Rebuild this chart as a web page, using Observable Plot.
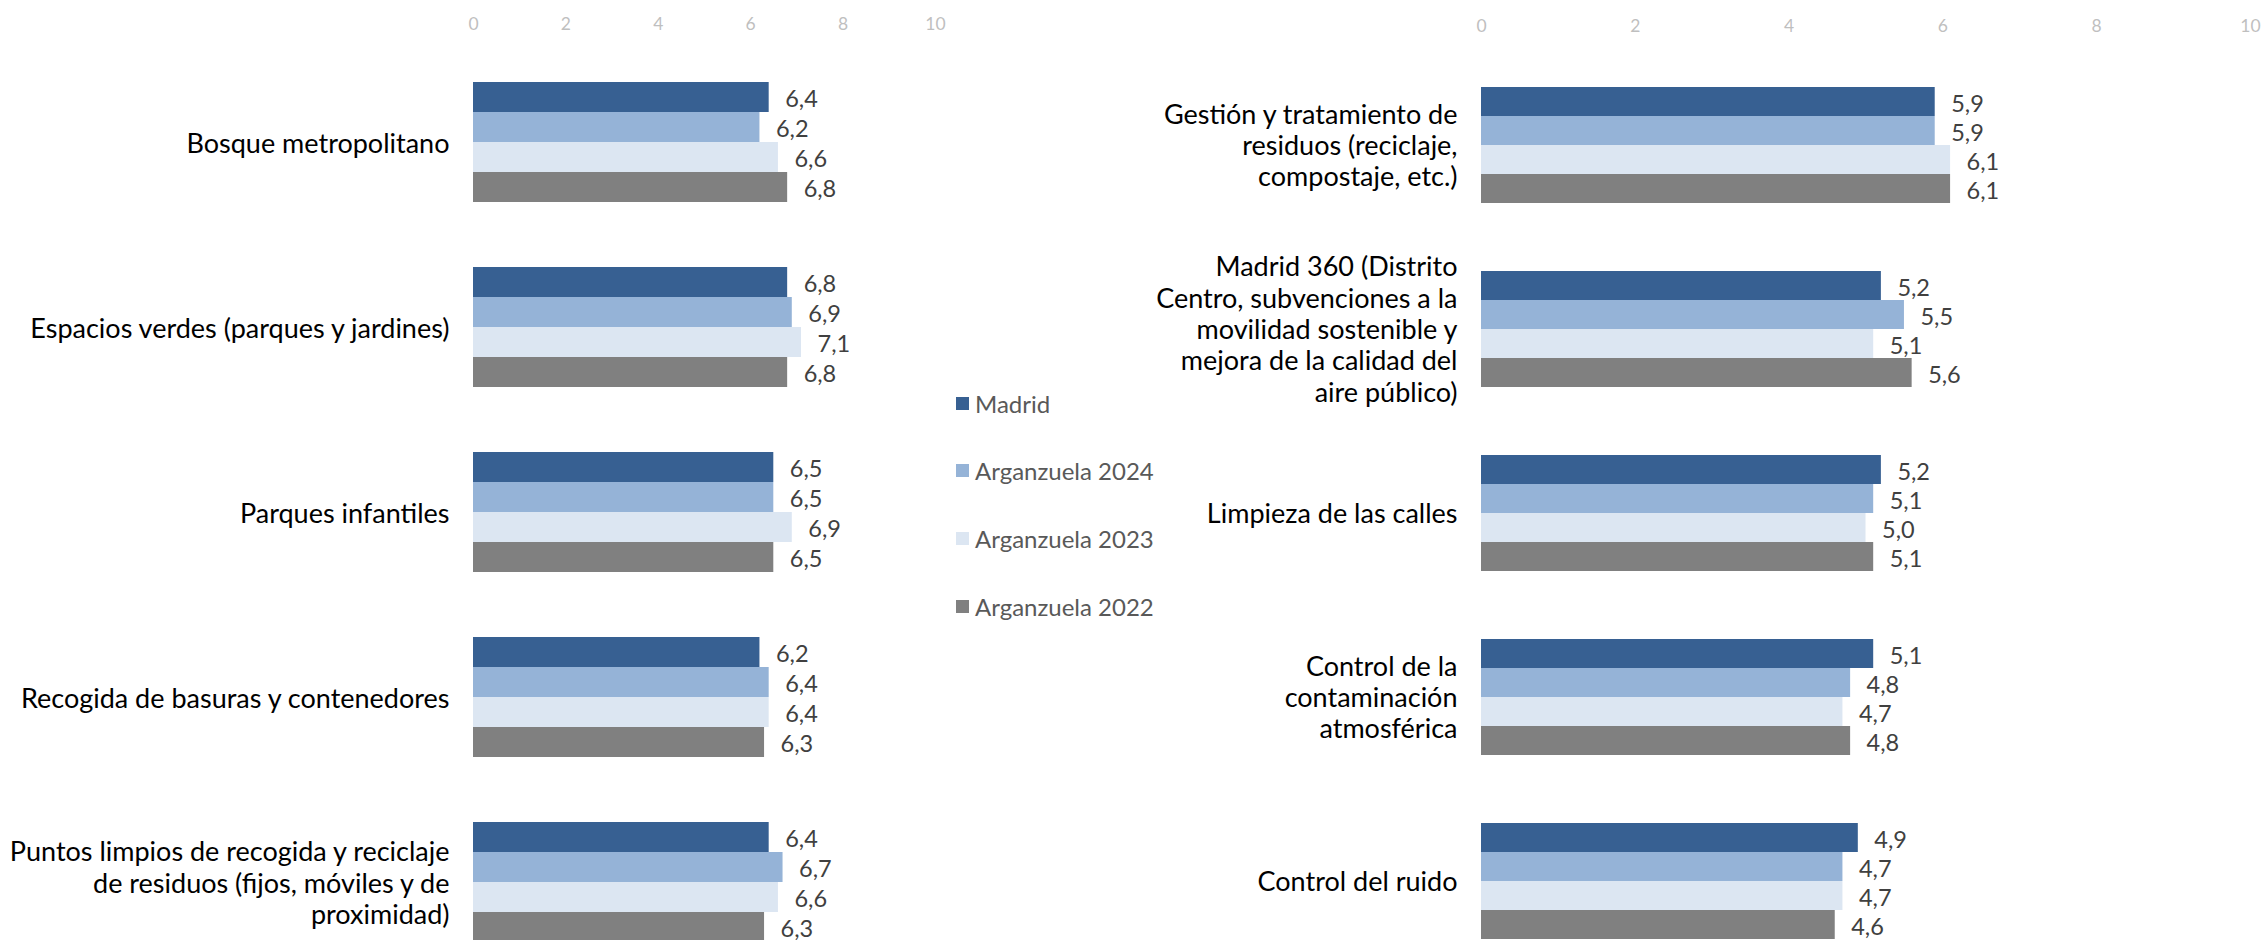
<!DOCTYPE html>
<html><head><meta charset="utf-8">
<script src="https://cdn.jsdelivr.net/npm/d3@7"></script>
<script src="https://cdn.jsdelivr.net/npm/@observablehq/plot@0.6"></script>
<style>
html,body{margin:0;padding:0;background:#fff;overflow:hidden;width:2262px;height:940px;}
#left{position:absolute;left:0;top:0;}
#right{position:absolute;left:1000px;top:0;}
#legend{position:absolute;left:956px;top:0;font-family:Lato,sans-serif;font-size:24px;color:#595959;}
.item{position:absolute;left:0;white-space:nowrap;display:flex;align-items:center;height:30px;margin-top:-15px;}
.sw{width:13px;height:13px;margin-right:6px;display:inline-block;}
</style></head><body>
<div id="left"></div><div id="right"></div><div id="legend"></div>
<script>
const series = ["Madrid", "Arganzuela 2024", "Arganzuela 2023", "Arganzuela 2022"];
const colors = ["#376092", "#95b3d7", "#dce6f2", "#808080"];
const xTicks = [0, 2, 4, 6, 8, 10];

const leftCategories = [
  "Bosque metropolitano",
  "Espacios verdes (parques y jardines)",
  "Parques infantiles",
  "Recogida de basuras y contenedores",
  "Puntos limpios de recogida y reciclaje\nde residuos (fijos, móviles y de\nproximidad)"
];
const leftMadrid = [6.4, 6.8, 6.5, 6.2, 6.4];
const left2024   = [6.2, 6.9, 6.5, 6.4, 6.7];
const left2023   = [6.6, 7.1, 6.9, 6.4, 6.6];
const left2022   = [6.8, 6.8, 6.5, 6.3, 6.3];

const rightCategories = [
  "Gestión y tratamiento de\nresiduos (reciclaje,\ncompostaje, etc.)",
  "Madrid 360 (Distrito\nCentro, subvenciones a la\nmovilidad sostenible y\nmejora de la calidad del\naire público)",
  "Limpieza de las calles",
  "Control de la\ncontaminación\natmosférica",
  "Control del ruido"
];
const rightMadrid = [5.9, 5.2, 5.2, 5.1, 4.9];
const right2024   = [5.9, 5.5, 5.1, 4.8, 4.7];
const right2023   = [6.1, 5.1, 5.0, 4.7, 4.7];
const right2022   = [6.1, 5.6, 5.1, 4.8, 4.6];

function rows(cats, cols) {
  return cats.flatMap((c, i) => series.map((s, j) => ({category: c, series: s, value: cols[j][i]})));
}
const fmt = d => d.value.toFixed(1).replace(".", ",");

function panel(cats, cols, opts) {
  const data = rows(cats, cols);
  return Plot.plot({
    width: opts.width, height: 960,
    marginLeft: opts.ml, marginRight: opts.mr, marginTop: opts.mt, marginBottom: opts.mb,
    style: {fontFamily: "Lato, sans-serif", background: "white", overflow: "visible"},
    x: {domain: [0, 10], axis: null, label: null},
    y: {domain: series, axis: null, padding: 0},
    fy: {domain: cats, axis: null, paddingInner: 0.3514, paddingOuter: 0, label: null},
    color: {domain: series, range: colors},
    marks: [
      Plot.barX(data, {x: "value", y: "series", fy: "category", fill: "series"}),
      Plot.text(data, {x: "value", y: "series", fy: "category", text: fmt, textAnchor: "start", dx: 16, dy: 2, fill: "#404040", fontSize: 23.5}),
      Plot.axisX({anchor: "top", ticks: xTicks, tickSize: 0, tickPadding: opts.tp, fontSize: 17.5, fill: "#bfbfbf", label: null}),
      Plot.axisFy({anchor: "left", tickSize: 0, tickPadding: 24, fontSize: 27, lineHeight: 1.16, fill: "#000", label: null})
    ]
  });
}

document.getElementById("left").append(panel(leftCategories, [leftMadrid, left2024, left2023, left2022],
  {width: 1000, ml: 473, mr: 65, mt: 82, mb: 18, tp: 53}));
document.getElementById("right").append(panel(rightCategories, [rightMadrid, right2024, right2023, right2022],
  {width: 1262, ml: 481, mr: 12, mt: 83, mb: 18, tp: 54}));

const legendY = [403, 470, 538, 606];
const lg = document.getElementById("legend");
series.forEach((s, i) => {
  const it = document.createElement("div");
  it.className = "item";
  it.style.top = legendY[i] + "px";
  it.innerHTML = `<span class="sw" style="background:${colors[i]}"></span><span>${s}</span>`;
  lg.append(it);
});
</script>
</body></html>
